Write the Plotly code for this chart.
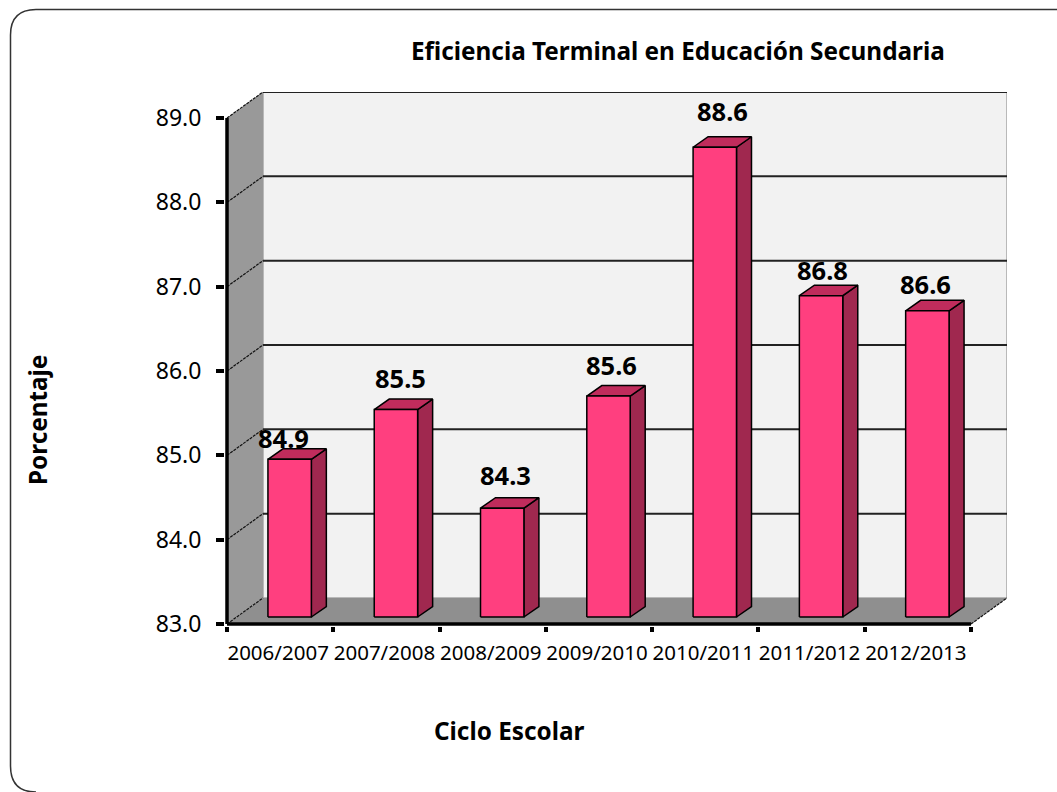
import plotly.graph_objects as go

categories = ["2006/2007", "2007/2008", "2008/2009", "2009/2010", "2010/2011", "2011/2012", "2012/2013"]
values = [84.87, 85.46, 84.29, 85.62, 88.57, 86.81, 86.63]
y_ticks = [83, 84, 85, 86, 87, 88, 89]
title = "Eficiencia Terminal en Educación Secundaria"
x_title = "Ciclo Escolar"
y_title = "Porcentaje"

# geometry (pixels on the page)
W, H = 1057, 792
PAD = 2                                 # room so the thick axis lines are not clipped
L, R, T, B = 227 - PAD, 1007, 92, 624 + PAD
U = (971 - 227) / len(categories)      # pixels per category
V = (624 - 118) / (y_ticks[-1] - y_ticks[0])  # pixels per y unit
WALL_DX, WALL_DY = 36 / U, 26 / V      # depth of the walls
BAR_DX, BAR_DY = 15 / U, 10.5 / V      # depth of the bars
BAR_OFF, BASE_OFF = 9.5 / U, 7 / V     # bar position inside the floor
BAR_HALF = 21.7 / U
Y0, Y1 = y_ticks[0], y_ticks[-1]
X0, X1 = -0.5, len(categories) - 0.5
label_dx = [-6, 5, 3, 3, 8, 1, -2]
label_dy = [21, 32, 33, 31, 36, 26, 27]

def px(x): return (x - L) / (R - L)
def py(y): return (B - y) / (B - T)

FONT = "Noto Sans"
fig = go.Figure()

def poly(points, fill, line=None, width=0):
    xs, ys = [], []
    for p in points:
        xs += [q[0] for q in p] + [p[0][0], None]
        ys += [q[1] for q in p] + [p[0][1], None]
    fig.add_trace(go.Scatter(x=xs, y=ys, mode="lines", fill="toself", fillcolor=fill,
                             line=dict(color=line or fill, width=width if line else 0),
                             hoverinfo="skip", showlegend=False))

def seg(xs, ys, color, width, dash="solid"):
    fig.add_trace(go.Scatter(x=xs, y=ys, mode="lines", line=dict(color=color, width=width, dash=dash),
                             hoverinfo="skip", showlegend=False))

# walls
poly([[(X0 + WALL_DX, Y0 + WALL_DY), (X1 + WALL_DX, Y0 + WALL_DY), (X1 + WALL_DX, Y1 + WALL_DY), (X0 + WALL_DX, Y1 + WALL_DY)]],
     "#F2F2F2", "#A6A6A6", 1.5)
poly([[(X0, Y0), (X0 + WALL_DX, Y0 + WALL_DY), (X0 + WALL_DX, Y1 + WALL_DY), (X0, Y1)]], "#999999")
poly([[(X0, Y0), (X1, Y0), (X1 + WALL_DX, Y0 + WALL_DY), (X0 + WALL_DX, Y0 + WALL_DY)]], "#8F8F8F")

# gridlines: back wall and left wall
for v in y_ticks[1:]:
    seg([X0 + WALL_DX, X1 + WALL_DX], [v + WALL_DY] * 2, "#222222", 2)
for v in y_ticks:
    seg([X0, X0 + WALL_DX], [v, v + WALL_DY], "#111111", 1.2, "3px,1px")
seg([X1, X1 + WALL_DX], [Y0, Y0 + WALL_DY], "#111111", 1.2, "3px,1px")

# bars
fronts, sides, tops = [], [], []
for i, v in enumerate(values):
    a = i + BAR_OFF - BAR_HALF
    b = i + BAR_OFF + BAR_HALF
    base = Y0 + BASE_OFF
    top = v + BASE_OFF
    fronts.append([(a, base), (b, base), (b, top), (a, top)])
    sides.append([(b, base), (b + BAR_DX, base + BAR_DY), (b + BAR_DX, top + BAR_DY), (b, top)])
    tops.append([(a, top), (b, top), (b + BAR_DX, top + BAR_DY), (a + BAR_DX, top + BAR_DY)])
poly(sides, "#A0284F", "#000000", 1.5)
poly(tops, "#C02C5C", "#000000", 1.5)
poly(fronts, "#FF3F7F", "#000000", 1.5)

# front axis lines
seg([X0, X1], [Y0, Y0], "#000000", 3.5)
seg([X0, X0], [Y0, Y1], "#000000", 3.5)

annotations = []
for i, v in enumerate(values):
    annotations.append(dict(x=i + BAR_OFF, y=v + BASE_OFF, xref="x", yref="y", text=f"{v:.1f}", showarrow=False,
                            xshift=label_dx[i], yshift=label_dy[i], xanchor="center", yanchor="middle",
                            font=dict(family=FONT, size=25.5, color="#000000", weight="bold")))
bold = dict(family=FONT, size=24.3, color="#000000", weight="bold")
annotations += [
    dict(x=px(678), y=py(51), xref="paper", yref="paper", text=title, showarrow=False,
         xanchor="center", yanchor="middle", font=bold),
    dict(x=px(509), y=py(730), xref="paper", yref="paper", text=x_title, showarrow=False,
         xanchor="center", yanchor="middle", font=bold),
    dict(x=px(38), y=py(420), xref="paper", yref="paper", text=y_title, showarrow=False, textangle=-90,
         xanchor="center", yanchor="middle", font=bold),
]

frame = "M {} {} L {} {} Q {} {} {} {} L {} {} Q {} {} {} {}".format(
    px(W), py(9.5), px(36), py(9.5), px(10.5), py(9.5), px(10.5), py(35),
    px(10.5), py(766), px(10.5), py(792), px(36), py(792))

fig.update_layout(
    width=W, height=H, margin=dict(l=L, r=W - R, t=T, b=H - B),
    paper_bgcolor="#FFFFFF", plot_bgcolor="rgba(0,0,0,0)", showlegend=False,
    annotations=annotations,
    shapes=[dict(type="path", path=frame, xref="paper", yref="paper", line=dict(color="#333333", width=1.5))],
    xaxis=dict(range=[X0 - PAD / U, X1 + WALL_DX], tickmode="array", tickvals=list(range(len(categories))), ticktext=categories,
               showgrid=False, zeroline=False, showline=False, ticks="", ticklabelstandoff=12, ticklabelshift=-2,
               tickfont=dict(family=FONT, size=20.5, color="#000000"),
               minor=dict(tickmode="array", tickvals=[i - 0.5 for i in range(len(categories) + 1)],
                          ticks="outside", ticklen=5, tickwidth=3.5, tickcolor="#000000", showgrid=False)),
    yaxis=dict(range=[Y0 - PAD / V, Y1 + WALL_DY], tickmode="array", tickvals=y_ticks, ticktext=[f"{t:.1f}" for t in y_ticks],
               showgrid=False, zeroline=False, showline=False, ticks="outside", ticklen=8, tickwidth=3.5,
               tickcolor="#000000", ticklabelstandoff=10,
               tickfont=dict(family=FONT, size=23, color="#000000")),
)
fig.write_html("out.html", config=dict(displayModeBar=False), post_script="document.body.style.margin='0';")
